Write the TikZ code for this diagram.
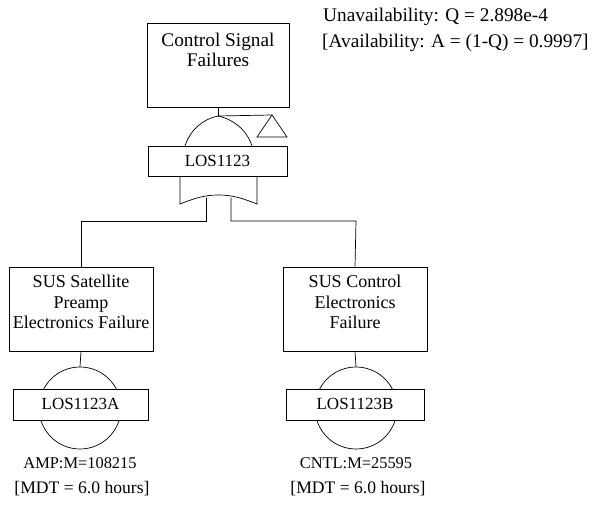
\documentclass[tikz,border=0pt]{standalone}
\usepackage{fontspec}
\setmainfont{Liberation Serif}
\begin{document}
\begin{tikzpicture}[x=1pt,y=-1pt,
  ln/.style={line width=0.7pt,draw=black},
  ebox/.style={draw,line width=0.7pt,rectangle,inner sep=0pt},
  line/.style={inner sep=0pt,anchor=base},
  bigtxt/.style={line,font=\fontsize{19.3}{22}\selectfont},
  boxtxt/.style={line,font=\fontsize{18}{20.5}\selectfont},
  idtxt/.style={line,font=\fontsize{17}{20}\selectfont},
  mtxt/.style={line,font=\fontsize{16.4}{19}\selectfont},
  mdttxt/.style={line,font=\fontsize{17.6}{20}\selectfont},
  gate/.style={line width=0.7pt,draw=black}]
\useasboundingbox (0,0) rectangle (593,511);

% probability summary
\node[bigtxt,anchor=base west] (unav) at (323,22) {Unavailability: Q = 2.898e-4};
\node[bigtxt,anchor=base west] (avail) at (322,48) {[Availability: A = (1-Q) = 0.9997]};

% top event
\node[ebox,minimum width=142,minimum height=84] (top) at (218,65) {};
\node[bigtxt] (topA) at (218,46.5) {Control Signal};
\node[bigtxt] (topB) at (218,66) {Failures};

% AND gate with transfer triangle
\coordinate (andtop) at (218,116);
\coordinate (andl) at (185,146);
\coordinate (andr) at (252,146);
\draw[ln] (top.south) -- (andtop);
\draw[gate] (andl) .. controls (190,130) and (203,119) .. (andtop)
             .. controls (233,119) and (247,130) .. (andr);
\coordinate (tri) at (272,115);
\coordinate (tril) at (257,137);
\coordinate (trir) at (287,137);
\draw[ln] (andtop) -- (tri);
\draw[ln] (tri) -- (tril) -- (trir) -- cycle;

% gate id box
\node[ebox,minimum width=139,minimum height=30] (g1) at (217.5,161) {};
\node[idtxt] (g1txt) at (217.5,166.5) {LOS1123};

% OR-shaped lower part of the gate
\coordinate (orl) at (180,176);
\coordinate (orr) at (257,176);
\coordinate (orbl) at (180,204);
\coordinate (orbr) at (257,204);
\coordinate (orc) at (218.5,195);
\draw[gate] (orl) -- (orbl) .. controls (195,198) and (205,195) .. (orc)
            .. controls (232,195) and (242,198) .. (orbr) -- (orr);
\coordinate (legl) at (206,197.5);
\coordinate (legr) at (231,197.5);
\coordinate (legldn) at (206,221);
\coordinate (legrdn) at (231,221);
\coordinate (brl) at (81,221);
\coordinate (brr) at (356,221);

% left branch
\node[ebox,minimum width=144,minimum height=84] (bl) at (81,309) {};
\node[boxtxt] (blA) at (81,287.5) {SUS Satellite};
\node[boxtxt] (blB) at (81,308) {Preamp};
\node[boxtxt] (blC) at (81,328.5) {Electronics Failure};
\draw[ln] (legl) -- (legldn) -- (brl) -- (bl.north);
\node[draw,circle,line width=0.7pt,minimum size=82,inner sep=0pt] (cl) at (80,408) {};
\draw[ln] (bl.south) -- (cl.north);
\node[ebox,fill=white,minimum width=135,minimum height=31] (idl) at (80.5,404.5) {};
\node[idtxt] (idltxt) at (80.5,409.5) {LOS1123A};
\node[mtxt] (ml) at (80,468.5) {AMP:M=108215};
\node[mdttxt] (mdtl) at (82,493) {[MDT = 6.0 hours]};

% right branch
\node[ebox,minimum width=144,minimum height=84] (br) at (355,309) {};
\node[boxtxt] (brA) at (355,287.5) {SUS Control};
\node[boxtxt] (brB) at (355,308) {Electronics};
\node[boxtxt] (brC) at (355,328.5) {Failure};
\draw[ln] (legr) -- (legrdn) -- (brr) -- (br.north);
\node[draw,circle,line width=0.7pt,minimum size=82,inner sep=0pt] (cr) at (356,408) {};
\draw[ln] (br.south) -- (cr.north);
\node[ebox,fill=white,minimum width=138,minimum height=31] (idr) at (355,404.5) {};
\node[idtxt] (idrtxt) at (355,409.5) {LOS1123B};
\node[mtxt] (mr) at (356,468.5) {CNTL:M=25595};
\node[mdttxt] (mdtr) at (358,493) {[MDT = 6.0 hours]};
\end{tikzpicture}
\end{document}
